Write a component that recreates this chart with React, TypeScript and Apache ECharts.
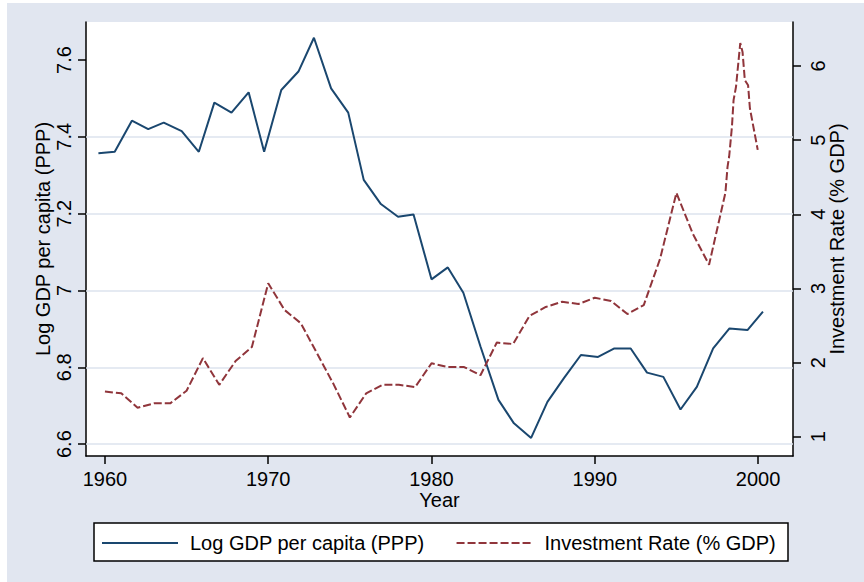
import React, { useEffect, useRef } from "react";
import * as echarts from "echarts";

// Log GDP per capita (PPP) — solid line, left axis
const gdpYears = [1959.6, 1960.6, 1961.65, 1962.65, 1963.6, 1964.7, 1965.75, 1966.7, 1967.75, 1968.8, 1969.75, 1970.8, 1971.85, 1972.8, 1973.85, 1974.9, 1975.85, 1976.9, 1977.95, 1978.9, 1980.0, 1981.0, 1981.95, 1983.0, 1984.1, 1985.05, 1986.1, 1987.1, 1988.1, 1989.15, 1990.2, 1991.2, 1992.2, 1993.2, 1994.2, 1995.25, 1996.25, 1997.25, 1998.25, 1999.35, 2000.3];
const gdpValues = [7.357, 7.361, 7.442, 7.42, 7.437, 7.415, 7.361, 7.489, 7.463, 7.516, 7.361, 7.522, 7.57, 7.658, 7.526, 7.463, 7.288, 7.225, 7.192, 7.198, 7.029, 7.06, 6.994, 6.854, 6.715, 6.654, 6.616, 6.71, 6.771, 6.832, 6.827, 6.849, 6.849, 6.786, 6.775, 6.69, 6.749, 6.849, 6.901, 6.897, 6.945];

// Investment Rate (% GDP) — dashed line, right axis
const invYears = [1960, 1961, 1962, 1963, 1964, 1965, 1966, 1967, 1968, 1969, 1970, 1971, 1972, 1973, 1974, 1975, 1976, 1977, 1978, 1979, 1980, 1981, 1982, 1983, 1984, 1985, 1986, 1987, 1988, 1989, 1990, 1991, 1992, 1993, 1994, 1995, 1996, 1997, 1998.0, 1998.13, 1998.23, 1998.4, 1998.5, 1998.65, 1998.79, 1998.91, 1999.05, 1999.19, 1999.39, 1999.5, 1999.98];
const invValues = [1.61, 1.585, 1.39, 1.45, 1.45, 1.62, 2.06, 1.7, 2.02, 2.21, 3.07, 2.71, 2.53, 2.12, 1.71, 1.26, 1.585, 1.7, 1.7, 1.67, 1.99, 1.94, 1.94, 1.83, 2.27, 2.25, 2.63, 2.75, 2.82, 2.79, 2.875, 2.83, 2.655, 2.775, 3.4, 4.29, 3.74, 3.32, 4.29, 4.64, 4.78, 5.18, 5.54, 5.72, 6.04, 6.31, 6.19, 5.81, 5.74, 5.43, 4.87];

const xTicks = [1960, 1970, 1980, 1990, 2000];
const leftTicks = [6.6, 6.8, 7, 7.2, 7.4, 7.6];
const rightTicks = [1, 2, 3, 4, 5, 6];
const gridValues = [6.6, 6.8, 7, 7.2, 7.4];

const gdpName = "Log GDP per capita (PPP)";
const invName = "Investment Rate (% GDP)";

const FONT = "'Liberation Sans', Arial, Helvetica, sans-serif";
const BLUE = "#1a476f";
const RED = "#90353b";
const BG = "#e1e6f0";

export default function App() {
  const ref = useRef<HTMLDivElement>(null);
  useEffect(() => {
    if (!ref.current) return;
    const chart = echarts.init(ref.current, undefined, { renderer: "svg" });
    const axisLineStyle = { color: "#000", width: 1.5 };
    const fmt = (v: number) => String(Number(v.toFixed(1)));
    chart.setOption({
      animation: false,
      backgroundColor: BG,
      textStyle: { fontFamily: FONT },
      grid: {
        left: 79,
        top: 19,
        right: 71,
        bottom: 126,
        show: true,
        backgroundColor: "#fff",
        borderWidth: 0,
      },
      xAxis: {
        type: "value",
        min: 1958.84,
        max: 2002.14,
        name: "Year",
        nameLocation: "middle",
        nameGap: 34,
        nameMoveOverlap: false,
        nameTextStyle: { fontSize: 20, color: "#000", fontFamily: FONT },
        axisLine: { show: true, lineStyle: axisLineStyle },
        axisTick: { show: true, length: 8, customValues: xTicks, lineStyle: axisLineStyle },
        axisLabel: { customValues: xTicks, fontSize: 20, color: "#000", margin: 13, fontFamily: FONT, formatter: (v: number) => String(v) },
        splitLine: { show: false },
      },
      yAxis: [
        {
          type: "value",
          position: "left",
          min: 6.569,
          max: 7.699,
          name: gdpName,
          nameLocation: "middle",
          nameRotate: 90,
          nameGap: 33,
          nameMoveOverlap: false,
          nameTextStyle: { fontSize: 20, color: "#000", fontFamily: FONT },
          axisLine: { show: true, lineStyle: axisLineStyle },
          axisTick: { show: true, length: 8, customValues: leftTicks, lineStyle: axisLineStyle },
          axisLabel: { customValues: leftTicks, rotate: 90, fontSize: 20, color: "#000", margin: 12, formatter: fmt, fontFamily: FONT },
          splitLine: { show: false },
        },
        {
          type: "value",
          position: "right",
          min: 0.74,
          max: 6.594,
          name: invName,
          nameLocation: "middle",
          nameRotate: 90,
          nameGap: 34,
          nameMoveOverlap: false,
          nameTextStyle: { fontSize: 20, color: "#000", fontFamily: FONT },
          axisLine: { show: true, lineStyle: axisLineStyle },
          axisTick: { show: true, length: 8, customValues: rightTicks, lineStyle: axisLineStyle },
          axisLabel: { customValues: rightTicks, rotate: 90, fontSize: 20, color: "#000", margin: 15, fontFamily: FONT },
          splitLine: { show: false },
        },
      ],
      legend: {
        left: 94,
        top: 530,
        padding: 0,
        itemWidth: 76,
        itemHeight: 14,
        itemGap: 31,
        itemStyle: { opacity: 0 },
        data: [gdpName, invName],
        textStyle: { fontSize: 20, color: "#000", fontFamily: FONT, padding: [0, 0, 0, 7] },
      },
      graphic: [
        {
          type: "rect",
          z: 0,
          shape: { x: 87, y: 520, width: 694, height: 38 },
          style: { fill: "#fff", stroke: "#000", lineWidth: 1.5 },
        },
      ],
      series: [
        {
          name: gdpName,
          type: "line",
          yAxisIndex: 0,
          z: 3,
          showSymbol: false,
          symbol: "none",
          data: gdpYears.map((y, i) => [y, gdpValues[i]]),
          lineStyle: { color: BLUE, width: 2 },
          itemStyle: { color: BLUE },
          markLine: {
            silent: true,
            z: 1,
            symbol: "none",
            label: { show: false },
            lineStyle: { color: "#dde3ee", width: 1.5, type: "solid" },
            data: gridValues.map((v) => ({ yAxis: v })),
          },
        },
        {
          name: invName,
          type: "line",
          yAxisIndex: 1,
          z: 3,
          showSymbol: false,
          symbol: "none",
          data: invYears.map((y, i) => [y, invValues[i]]),
          lineStyle: { color: RED, width: 2, type: [8, 3] },
          itemStyle: { color: RED },
        },
      ],
    });
    return () => chart.dispose();
  }, []);
  return (
    <div style={{ position: "absolute", left: 0, top: 0, width: 864, height: 582, background: "#fff" }}>
      <div ref={ref} style={{ position: "absolute", left: 7, top: 3, width: 857, height: 579 }} />
    </div>
  );
}
